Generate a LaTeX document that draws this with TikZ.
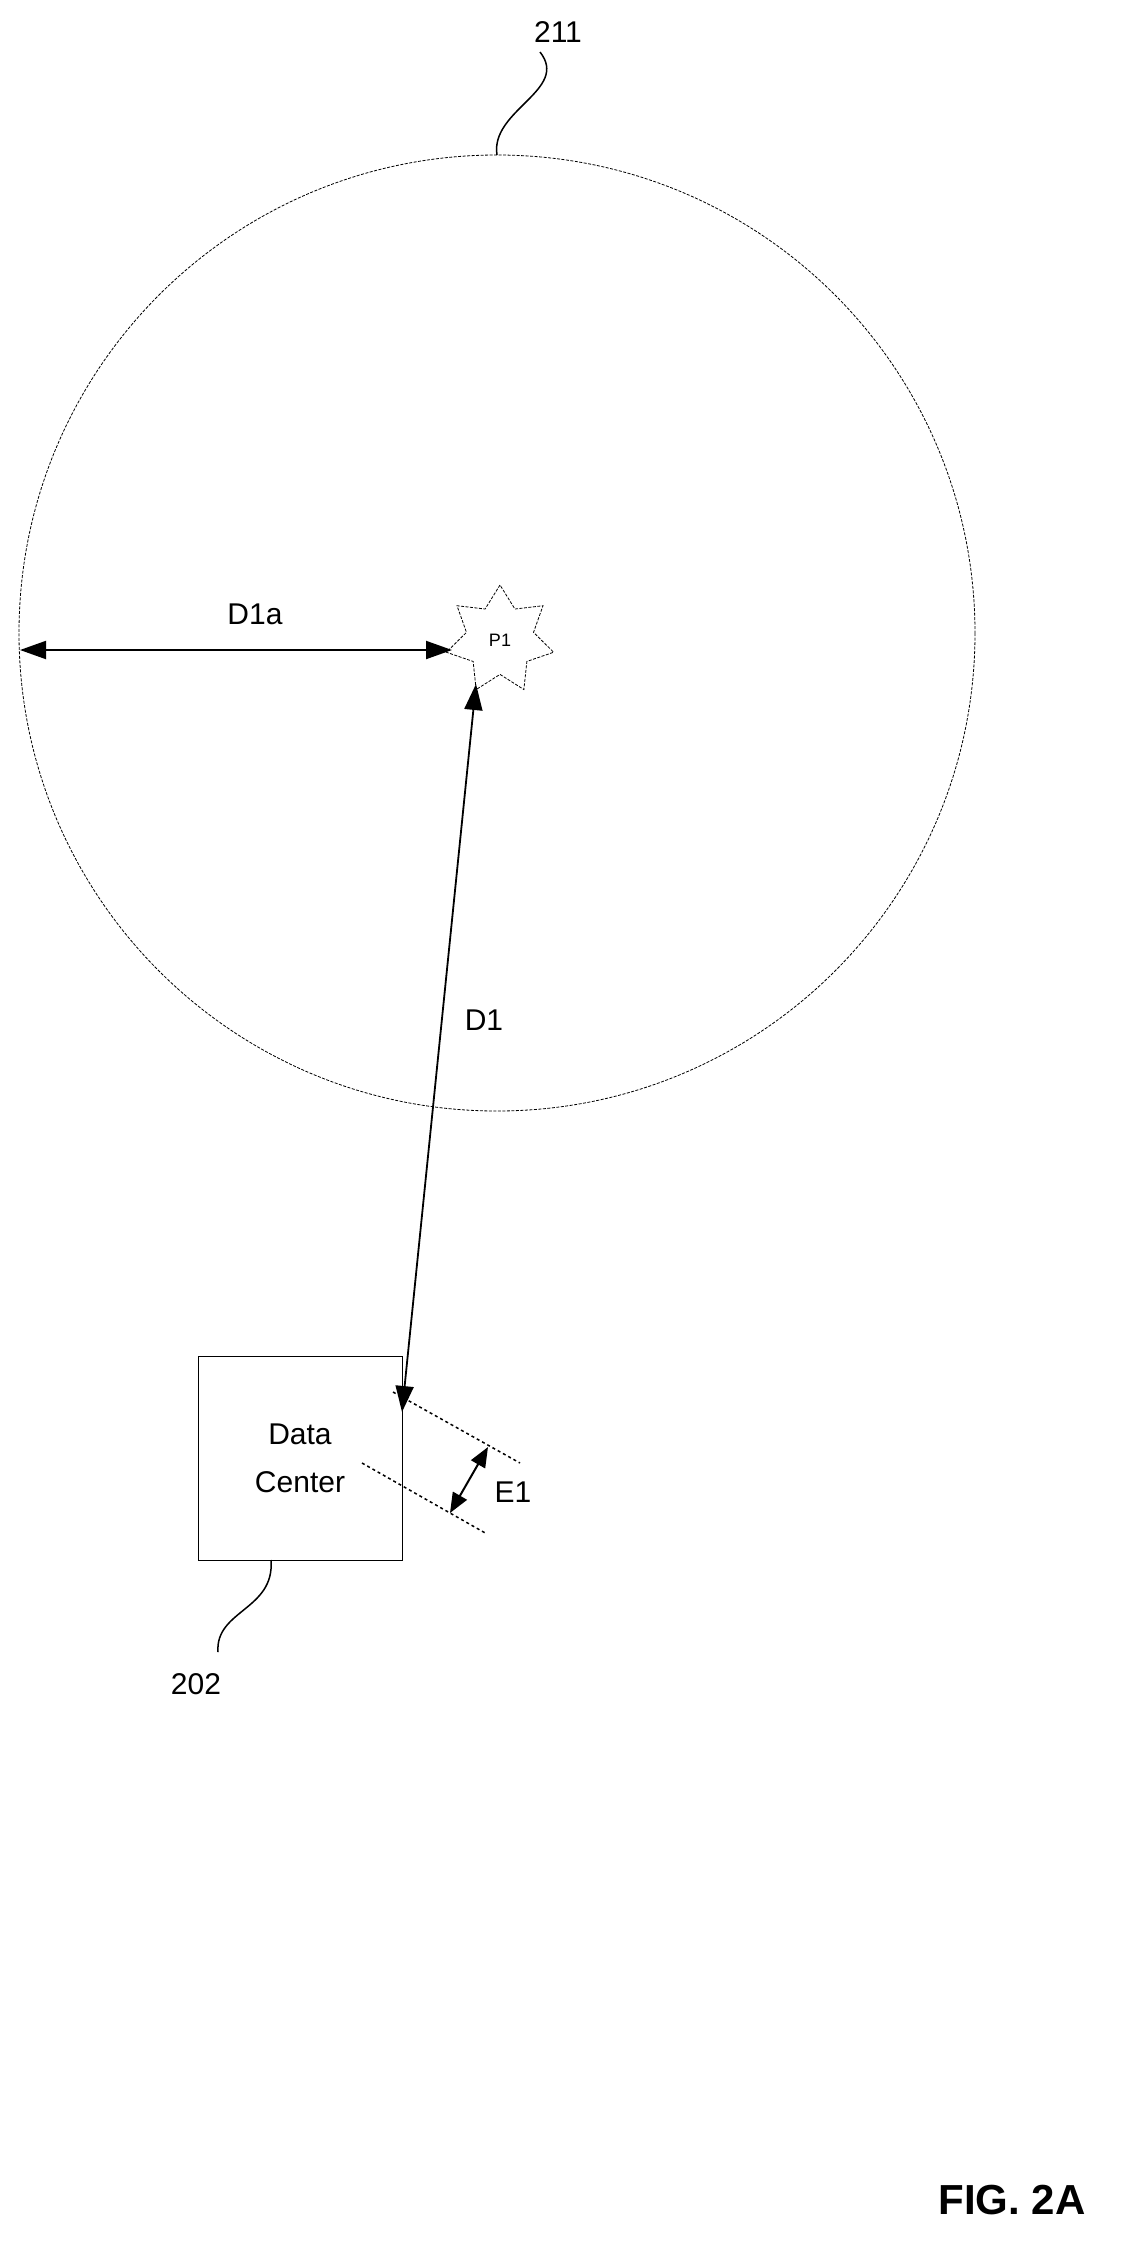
\documentclass[tikz,border=0pt]{standalone}
\usepackage{fontspec}
\setmainfont{Liberation Sans}
\usetikzlibrary{shapes.geometric,arrows.meta}
\begin{document}
\begin{tikzpicture}[x=1pt,y=-1pt,
  thin dot/.style={densely dashed,line width=0.8pt,dash pattern=on 3pt off 1.5pt},
  dim/.style={line width=2pt,{Triangle[length=26pt,width=18pt]}-{Triangle[length=26pt,width=18pt]}},
  lbl/.style={font=\fontsize{30}{34}\selectfont},
  lead/.style={line width=1.5pt}]
\useasboundingbox (0,0) rectangle (1134,2262);
\draw[thin dot] (497,633) circle (478);
\node[star,star points=7,star point ratio=1.6,minimum size=110pt,draw,thin dot,inner sep=0pt] (p1) at (500,640) {};
\node[font=\fontsize{18}{20}\selectfont] at (500,640) {P1};
\coordinate (l) at (20,650);
\coordinate (pl) at (452,650);
\draw[dim] (l) -- (pl);
\node[lbl] at (255,614) {D1a};
\node[draw,line width=0.8pt,minimum width=204pt,minimum height=204pt,align=center,font=\fontsize{30}{48}\selectfont] (dc) at (300,1458) {Data\\Center};
\coordinate (pb) at (476,684);
\coordinate (dt) at (402,1412);
\draw[dim,line width=1.8pt] (pb) -- (dt);
\node[lbl] at (484,1020) {D1};
\coordinate (a1) at (393,1392); \coordinate (a2) at (520,1463);
\coordinate (b1) at (362,1463); \coordinate (b2) at (487,1534);
\draw[thin dot,line width=1.5pt,dash pattern=on 3pt off 3pt] (a1) -- (a2);
\draw[thin dot,line width=1.5pt,dash pattern=on 3pt off 3pt] (b1) -- (b2);
\coordinate (e1) at (488,1447); \coordinate (e2) at (450,1513);
\draw[line width=2pt,{Triangle[length=20pt,width=16pt]}-{Triangle[length=20pt,width=16pt]}] (e1) -- (e2);
\node[lbl] at (513,1492) {E1};
\node[lbl] (n211) at (558,32) {211};
\draw[lead] (540,52) .. controls (570,90) and (490,110) .. (497,155);
\node[lbl] (n202) at (196,1684) {202};
\draw[lead] (271,1560) .. controls (275,1610) and (215,1610) .. (218,1652);
\node[font=\bfseries\fontsize{42}{46}\selectfont] at (1012,2200) {FIG. 2A};
\end{tikzpicture}
\end{document}
